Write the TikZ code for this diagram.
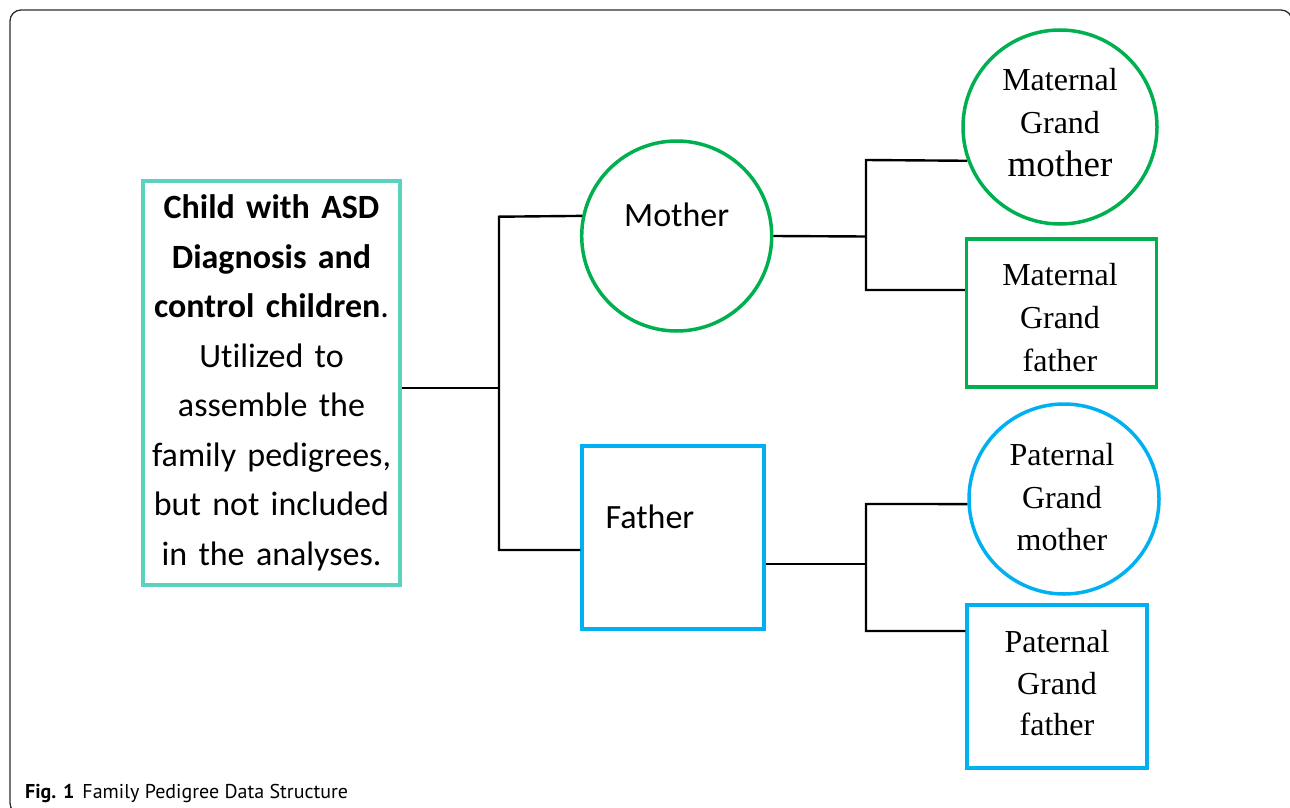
\documentclass[tikz,border=0pt]{standalone}
\usepackage{fontspec}
\setmainfont{Carlito}[Ligatures=NoCommon]
\newfontfamily\gpfont{Liberation Serif}
\newfontfamily\capfont{PT Sans}
\definecolor{tealc}{RGB}{92,210,190}
\definecolor{greenc}{RGB}{0,176,80}
\definecolor{bluec}{RGB}{0,176,240}
\definecolor{framec}{RGB}{45,45,45}
\begin{document}
\begin{tikzpicture}[x=1pt,y=-1pt,
  conn/.style={draw=black,line width=2.4pt},
  femc/.style={circle,draw=#1,line width=3.5pt,inner sep=0pt},
  malebox/.style={rectangle,draw=#1,line width=3.5pt,inner sep=0pt},
  mainlbl/.style={font=\fontsize{34}{40}\selectfont,inner sep=0pt},
  gplbl/.style={font=\gpfont\fontsize{32}{43}\selectfont,align=center,inner sep=0pt}]
\useasboundingbox (0,0) rectangle (1290,808);
\begin{scope}
\clip (0,0) rectangle (1290,808);
\draw[framec,line width=1.3pt,rounded corners=11pt] (10,10) rectangle (1292,814);
\end{scope}

% child box
\node[rectangle,draw=tealc,line width=3.5pt,minimum width=257pt,minimum height=404pt,
      text width=250pt,align=center,inner sep=0pt,
      font=\fontsize{34}{49.5}\selectfont] (child) at (271.5,383)
  {\textbf{Child with ASD}\\\textbf{Diagnosis and}\\\textbf{control children}.\\Utilized to\\assemble the\\family pedigrees,\\but not included\\in the analyses.};

% parents
\node[femc=greenc,minimum size=190pt] (mother) at (676.7,236) {};
\node[mainlbl] (mothert) at (676.7,215) {Mother};
\node[malebox=bluec,minimum width=182pt,minimum height=183pt] (father) at (673,537.5) {};
\node[mainlbl] (fathert) at (650,517) {Father};

% maternal grandparents
\node[femc=greenc,minimum size=194pt] (mgm) at (1060,127) {};
\node[gplbl] (mgmt) at (1060,123) {Maternal\\Grand\\{\fontsize{37}{43}\selectfont mother}};
\node[malebox=greenc,minimum width=190pt,minimum height=148pt] (mgf) at (1061.7,312.8) {};
\node[gplbl] (mgft) at (1060,318) {Maternal\\Grand\\father};

% paternal grandparents
\node[femc=bluec,minimum size=190pt] (pgm) at (1064,499) {};
\node[gplbl,font=\gpfont\fontsize{32}{42.5}\selectfont] (pgmt) at (1062,497.5) {Paternal\\Grand\\mother};
\node[malebox=bluec,minimum width=180pt,minimum height=163pt] (pgf) at (1057,686.5) {};
\node[gplbl,font=\gpfont\fontsize{32}{41.5}\selectfont] (pgft) at (1057,683.5) {Paternal\\Grand\\father};

% connectors
\coordinate (jc) at (499,388);
\coordinate (jm) at (499,216.7);
\coordinate (jf) at (499,550);
\draw[conn] (child.east |- jc) -- (jc);
\draw[conn] (mother.168.3) -- (jm) -- (jf) -- (father.west |- jf);

\coordinate (km) at (866,236.5);
\coordinate (kt) at (866,160);
\coordinate (kb) at (866,290);
\draw[conn] (mother.east) -- (km);
\draw[conn] (mgm.200) -- (kt) -- (kb) -- (mgf.west |- kb);

\coordinate (pf) at (866,564);
\coordinate (pt) at (866,504);
\coordinate (pb) at (866,631);
\draw[conn] (father.east |- pf) -- (pf);
\draw[conn] (pgm.183) -- (pt) -- (pb) -- (pgf.west |- pb);

% caption
\node[anchor=base west,inner sep=0pt,font=\capfont\fontsize{20}{22}\selectfont] (cap) at (25,798)
  {\textbf{Fig. 1}\hspace{8pt}Family Pedigree Data Structure};
\end{tikzpicture}
\end{document}
